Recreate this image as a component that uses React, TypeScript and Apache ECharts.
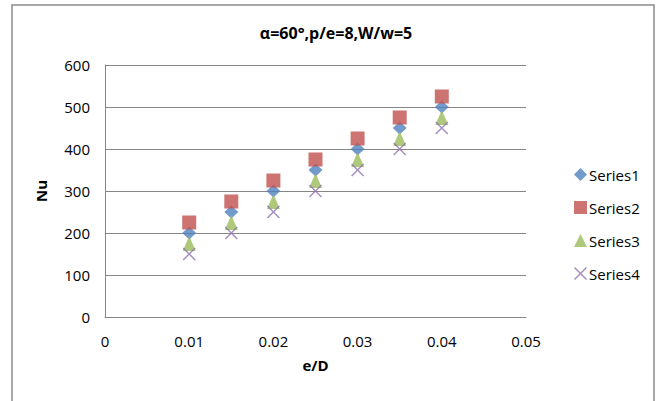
import React, { useEffect, useRef } from "react";
import * as echarts from "echarts";

const xValues = [0.01, 0.015, 0.02, 0.025, 0.03, 0.035, 0.04];
const series1 = [200, 250, 300, 350, 400, 450, 500];
const series2 = [225, 275, 325, 375, 425, 475, 525];
const series3 = [175, 225, 275, 325, 375, 425, 475];
const series4 = [150, 200, 250, 300, 350, 400, 450];
const seriesNames = ["Series1", "Series2", "Series3", "Series4"];
const titleText = "α=60°,p/e=8,W/w=5";

const FONT = "'Open Sans', 'Liberation Sans', sans-serif";
const X_PATH =
  "path://M0,0.8 L0.8,0 L5,4.2 L9.2,0 L10,0.8 L5.8,5 L10,9.2 L9.2,10 L5,5.8 L0.8,10 L0,9.2 L4.2,5 Z";

export default function App() {
  const ref = useRef<HTMLDivElement>(null);
  useEffect(() => {
    document.body.style.margin = "0";
    const chart = echarts.init(ref.current!, null, { renderer: "svg" });
    const mk = (vals: number[]) => xValues.map((x, i) => [x, vals[i]]);
    chart.setOption({
      animation: false,
      backgroundColor: "#ffffff",
      title: {
        text: titleText,
        left: 331,
        textAlign: "center",
        top: 20,
        textStyle: { fontFamily: FONT, fontSize: 16, fontWeight: "bold", color: "#000" },
      },
      graphic: [
        {
          type: "polyline",
          shape: { points: [[12, 420], [12, 5], [654, 5], [654, 420]] },
          style: { stroke: "#8c8c8c", lineWidth: 1.5, fill: "none" },
        },
      ],
      legend: {
        orient: "vertical",
        left: 569,
        top: 162,
        itemGap: 18,
        itemWidth: 13,
        itemHeight: 13,
        textStyle: { fontFamily: FONT, fontSize: 15, color: "#000", padding: [0, 0, 0, -3] },
        data: seriesNames,
      },
      grid: { left: 105, right: 131, top: 65, bottom: 84 },
      xAxis: {
        type: "value",
        min: 0,
        max: 0.05,
        interval: 0.01,
        name: "e/D",
        nameLocation: "middle",
        nameGap: 40,
        nameTextStyle: { fontFamily: FONT, fontSize: 15, fontWeight: "bold", color: "#000" },
        axisLine: { show: true, lineStyle: { color: "#868686", width: 1 } },
        axisTick: { show: false },
        splitLine: { show: false },
        axisLabel: {
          fontFamily: FONT,
          fontSize: 15,
          color: "#000",
          margin: 16,
          formatter: (v: number) => (v === 0 ? "0" : String(Number(v.toFixed(2)))),
        },
      },
      yAxis: {
        type: "value",
        min: 0,
        max: 600,
        interval: 100,
        name: "Nu",
        nameLocation: "middle",
        nameGap: 57,
        nameRotate: 90,
        nameTextStyle: { fontFamily: FONT, fontSize: 15, fontWeight: "bold", color: "#000" },
        axisLine: { show: true, lineStyle: { color: "#868686", width: 1 } },
        axisTick: { show: false },
        splitLine: { show: true, lineStyle: { color: "#868686", width: 1 } },
        axisLabel: { fontFamily: FONT, fontSize: 15, color: "#000", margin: 15 },
      },
      series: [
        {
          name: seriesNames[0],
          type: "scatter",
          data: mk(series1),
          symbol: "diamond",
          symbolSize: [14, 13],
          itemStyle: { color: "#4F81BD" },
        },
        {
          name: seriesNames[1],
          type: "scatter",
          data: mk(series2),
          symbol: "rect",
          symbolSize: 14,
          itemStyle: { color: "#C0504D" },
        },
        {
          name: seriesNames[2],
          type: "scatter",
          data: mk(series3),
          symbol: "triangle",
          symbolSize: [13, 15],
          itemStyle: { color: "#9BBB59" },
        },
        {
          name: seriesNames[3],
          type: "scatter",
          data: mk(series4),
          symbol: X_PATH,
          symbolSize: 13,
          itemStyle: { color: "#8E72B0" },
        },
      ],
    });
    return () => chart.dispose();
  }, []);
  return <div ref={ref} style={{ width: 657, height: 401 }} />;
}
